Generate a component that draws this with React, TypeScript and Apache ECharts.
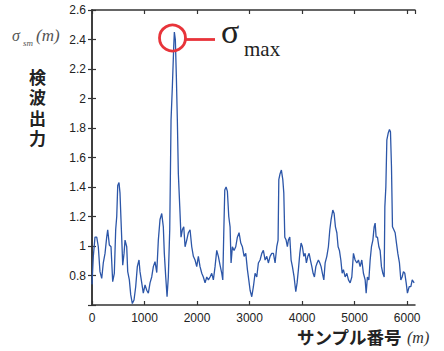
import React, { useEffect, useRef } from "react";
import * as echarts from "echarts";

const sampleIndex: number[] = [
  0, 25, 57, 90, 120, 152, 185, 215, 248, 280, 299, 330, 362, 394, 425, 451, 471, 490, 514, 533,
  552, 572, 585, 610, 629, 661, 680, 711, 737, 768, 800, 832, 863, 895, 914, 947, 977, 1010, 1042, 1073,
  1105, 1137, 1168, 1200, 1233, 1263, 1295, 1328, 1358, 1377, 1404, 1429, 1453, 1480, 1505, 1530, 1556, 1568, 1587, 1606,
  1625, 1644, 1671, 1695, 1720, 1747, 1772, 1804, 1835, 1867, 1899, 1930, 1962, 1994, 2025, 2057, 2090, 2120, 2153, 2185,
  2216, 2248, 2280, 2311, 2343, 2375, 2406, 2438, 2471, 2490, 2509, 2528, 2553, 2578, 2604, 2629, 2648, 2673, 2705, 2737,
  2768, 2800, 2833, 2863, 2896, 2928, 2959, 2985, 3010, 3042, 3073, 3105, 3137, 3168, 3200, 3233, 3263, 3296, 3328, 3358,
  3391, 3423, 3454, 3486, 3518, 3543, 3557, 3581, 3606, 3633, 3652, 3671, 3696, 3720, 3739, 3766, 3791, 3816, 3848, 3880,
  3905, 3930, 3957, 3981, 4006, 4033, 4058, 4082, 4109, 4134, 4159, 4186, 4210, 4235, 4262, 4286, 4311, 4338, 4362, 4387,
  4414, 4439, 4471, 4501, 4528, 4553, 4585, 4610, 4635, 4662, 4686, 4711, 4738, 4763, 4787, 4820, 4852, 4883, 4915, 4947,
  4978, 5010, 5043, 5073, 5105, 5137, 5168, 5201, 5220, 5244, 5271, 5296, 5321, 5348, 5372, 5391, 5410, 5435, 5462, 5486,
  5511, 5538, 5563, 5576, 5595, 5614, 5639, 5664, 5683, 5702, 5721, 5747, 5772, 5797, 5823, 5854, 5880, 5905, 5930, 5956,
  5982, 6006, 6039, 6071, 6097, 6134,
];

const detectorOutput: number[] = [
  0.74, 0.93, 1.06, 1.06, 0.995, 0.826, 0.78, 0.885, 0.95, 1.06, 1.11, 1.007, 0.995, 0.758, 0.815, 1.11, 1.2, 1.41, 1.43, 1.36,
  1.18, 0.995, 0.87, 0.95, 1.04, 0.995, 0.826, 0.77, 0.67, 0.61, 0.634, 0.724, 0.86, 0.905, 0.826, 0.75, 0.68, 0.736, 0.7, 0.68,
  0.75, 0.79, 0.86, 0.894, 0.82, 1.04, 1.18, 1.22, 1.13, 0.95, 0.79, 0.656, 0.79, 1.11, 1.855, 2.08, 2.35, 2.45, 2.4, 2.15,
  1.855, 1.49, 1.267, 1.06, 1.11, 1.13, 0.995, 1.04, 1.09, 1.11, 0.995, 0.93, 0.905, 0.86, 0.93, 0.86, 0.815, 0.79, 0.75, 0.79,
  0.77, 0.79, 0.815, 0.77, 0.86, 0.97, 0.93, 0.87, 0.815, 0.77, 1.09, 1.38, 1.4, 1.37, 1.2, 1.13, 0.885, 0.995, 0.97, 0.995,
  1.06, 1.09, 1.02, 0.995, 0.93, 0.95, 0.84, 0.77, 0.7, 0.656, 0.724, 0.815, 0.79, 0.885, 0.905, 0.95, 0.97, 0.905, 0.93, 0.885,
  0.93, 0.95, 0.95, 0.885, 0.995, 1.04, 1.45, 1.49, 1.515, 1.45, 1.36, 1.06, 1.04, 0.995, 1.04, 1.06, 0.905, 0.86, 0.79, 0.69,
  0.75, 0.84, 0.95, 1.02, 0.995, 0.93, 0.95, 0.885, 0.93, 0.95, 0.905, 0.86, 0.815, 0.79, 0.86, 0.885, 0.905, 0.885, 0.86, 0.815,
  0.77, 0.885, 0.93, 0.995, 1.11, 1.18, 1.244, 1.22, 1.13, 1.09, 0.995, 0.97, 0.905, 0.815, 0.84, 0.79, 0.815, 0.77, 0.75, 0.79,
  0.95, 0.905, 0.885, 0.905, 0.86, 0.905, 0.815, 0.77, 0.68, 0.79, 0.77, 0.905, 0.995, 1.04, 1.13, 1.155, 1.06, 1.06, 0.995, 0.97,
  0.86, 0.815, 0.79, 1.267, 1.4, 1.72, 1.764, 1.79, 1.775, 1.54, 1.13, 1.11, 1.09, 1.02, 0.95, 0.885, 0.77, 0.79, 0.826, 0.815,
  0.75, 0.68, 0.724, 0.724, 0.77, 0.75,
];

const xTicks: number[] = [0, 1000, 2000, 3000, 4000, 5000, 6000];
const yTicks: number[] = [0.8, 1, 1.2, 1.4, 1.6, 1.8, 2, 2.2, 2.4, 2.6];
const yTitleChars: string[] = ["検", "波", "出", "力"];

const AXIS_COLOR = "#333";
const LABEL_FONT = "'Liberation Sans', Arial, sans-serif";
const SERIF = "'Liberation Serif', 'DejaVu Serif', serif";
const CJK = "'Noto Sans CJK JP', 'Noto Sans', sans-serif";
const CJK_COMPACT = "'Liberation Sans', 'Noto Sans CJK JP', sans-serif";
const RED = "#e8343a";

export default function App() {
  const ref = useRef<HTMLDivElement>(null);

  useEffect(() => {
    if (!ref.current) return;
    const chart = echarts.init(ref.current, undefined, { renderer: "svg" });
    const data = sampleIndex.map((s, i) => [s, detectorOutput[i]]);

    const axisLine = { show: true, lineStyle: { color: AXIS_COLOR, width: 1.5 } };
    const axisTick = { show: true, inside: true, length: 4, lineStyle: { color: AXIS_COLOR, width: 1.2 } };

    const xAxisBase = {
      type: "value" as const,
      min: 0,
      max: 6150,
      interval: 1000,
      splitLine: { show: false },
      axisLine,
      axisTick,
    };
    const yAxisBase = {
      type: "value" as const,
      min: 0.6,
      max: 2.6,
      interval: 0.2,
      splitLine: { show: false },
      axisLine,
      axisTick,
    };

    const titleChars = yTitleChars.map((ch, i) => ({
      type: "text",
      left: 29,
      top: 69 + i * 20.5,
      style: { text: ch, font: `bold 17px ${CJK_COMPACT}`, lineHeight: 18, fill: "#222" },
    }));

    chart.setOption({
      animation: false,
      backgroundColor: "#ffffff",
      grid: { left: 92, right: 29, top: 10, bottom: 46, containLabel: false },
      xAxis: [
        {
          ...xAxisBase,
          position: "bottom",
          axisLabel: {
            show: true,
            color: "#222",
            fontSize: 12,
            fontFamily: LABEL_FONT,
            margin: 7,
            showMaxLabel: false,
            formatter: (v: number) => (xTicks.includes(Math.round(v)) && Math.abs(v - Math.round(v)) < 1e-6 ? String(Math.round(v)) : ""),
          },
        },
        {
          ...xAxisBase,
          position: "top",
          axisLabel: { show: false },
        },
      ],
      yAxis: [
        {
          ...yAxisBase,
          position: "left",
          axisLabel: {
            show: true,
            color: "#222",
            fontSize: 12,
            fontFamily: LABEL_FONT,
            margin: 6,
            formatter: (v: number) => {
              const r = Math.round(v * 10) / 10;
              return yTicks.some((t) => Math.abs(t - r) < 1e-6) ? String(r) : "";
            },
          },
        },
        {
          ...yAxisBase,
          position: "right",
          axisLabel: { show: false },
        },
      ],
      series: [
        {
          type: "line",
          xAxisIndex: 0,
          yAxisIndex: 0,
          data,
          showSymbol: false,
          symbol: "none",
          lineStyle: { color: "#2c56a8", width: 1.3 },
          z: 3,
        },
      ],
      graphic: [
        { type: "text", left: 12, top: 27, style: { text: "σ", font: `italic 16px ${SERIF}`, fill: "#555" } },
        { type: "text", left: 23, top: 38, style: { text: "sm", font: `italic 9px ${SERIF}`, fill: "#555" } },
        { type: "text", left: 36, top: 27, style: { text: "(m)", font: `italic 17px ${SERIF}`, fill: "#555" } },
        ...titleChars,
        {
          type: "text",
          left: 297,
          top: 328,
          style: { text: "サンプル番号", font: `bold 17.5px ${CJK}`, fill: "#222" },
        },
        { type: "text", left: 407, top: 329, style: { text: "(m)", font: `italic 16px ${SERIF}`, fill: "#333" } },
        {
          type: "circle",
          shape: { cx: 172.5, cy: 38, r: 13 },
          style: { fill: "none", stroke: RED, lineWidth: 2.8 },
          z: 10,
        },
        {
          type: "line",
          shape: { x1: 186, y1: 39.5, x2: 215, y2: 39.5 },
          style: { stroke: RED, lineWidth: 2.8 },
          z: 10,
        },
        { type: "text", left: 221, top: 14, style: { text: "σ", font: `34px ${SERIF}`, fill: "#222" } },
        { type: "text", left: 244, top: 38, style: { text: "max", font: `21px ${SERIF}`, fill: "#222" } },
      ],
    });

    return () => chart.dispose();
  }, []);

  return (
    <div
      ref={ref}
      style={{ position: "fixed", left: 0, top: 0, width: 444, height: 351, background: "#fff" }}
    />
  );
}
